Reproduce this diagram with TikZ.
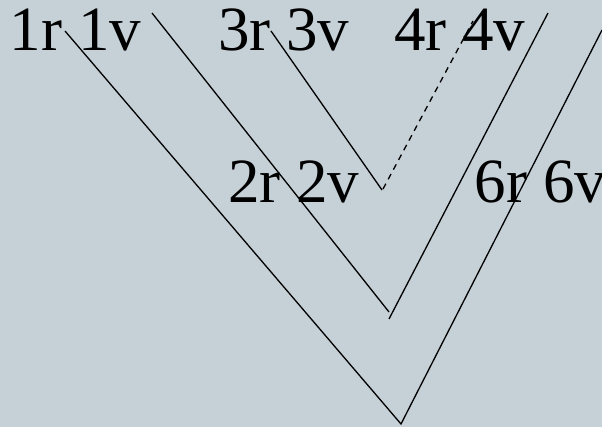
\documentclass[tikz,border=0pt]{standalone}
\usepackage{fontspec}
\setmainfont{Liberation Serif}
\definecolor{bgcol}{RGB}{197,208,215}
\begin{document}
\begin{tikzpicture}[x=1pt,y=-1pt,
  lbl/.style={anchor=base west,inner sep=0pt,font=\fontsize{63}{63}\selectfont},
  ln/.style={line width=1.3pt,black},
  dln/.style={ln,dash pattern=on 6pt off 5pt}]
\fill[bgcol] (0,0) rectangle (602,427);
\useasboundingbox (0,0) rectangle (602,427);
% labels
\node[lbl] (t1) at (9.7,51) {1r 1v};
\node[lbl] (t3) at (218,51) {3r 3v};
\node[lbl] (t4) at (394,51) {4r 4v};
\node[lbl] (t2) at (228,203) {2r 2v};
\node[lbl] (t6) at (474.6,203) {6r 6v};
% coordinates
\coordinate (a1) at (65,31);
\coordinate (b1) at (401,424);
\coordinate (c1) at (602,30);
\coordinate (a2) at (152,13);
\coordinate (b2) at (389,312);
\coordinate (b2r) at (389,319);
\coordinate (c2) at (548,13);
\coordinate (a3) at (271,31);
\coordinate (b3) at (382,190);
\coordinate (b3r) at (383,189);
\coordinate (c3) at (473,21);
% connectors
\draw[ln] (a1) -- (b1) -- (c1);
\draw[ln] (a2) -- (b2);
\draw[ln] (b2r) -- (c2);
\draw[ln] (a3) -- (b3);
\draw[dln] (b3r) -- (c3);
\end{tikzpicture}
\end{document}
